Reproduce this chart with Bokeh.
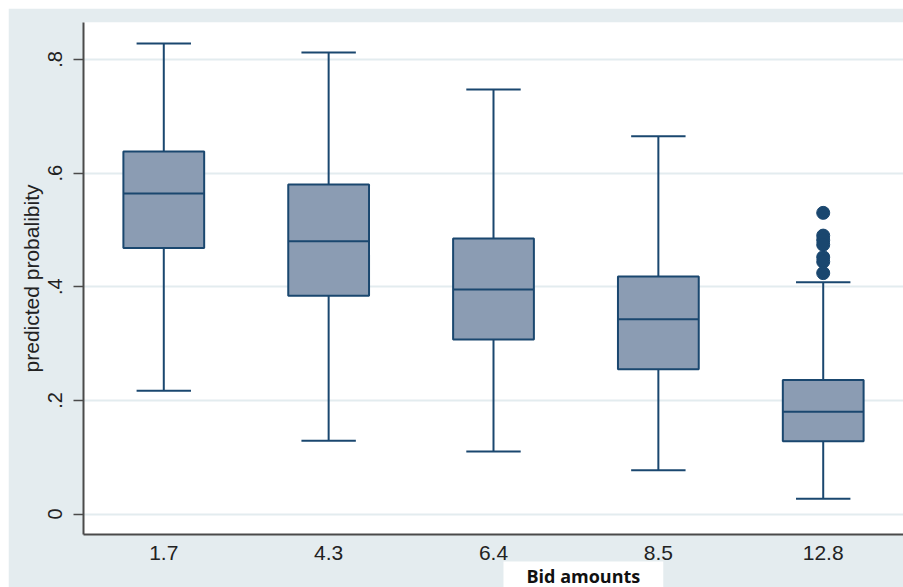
import numpy as np
from bokeh.plotting import figure
from bokeh.models import Range1d, FixedTicker, Title, ColumnDataSource
from bokeh.embed import file_html
from bokeh.resources import INLINE

# ---- data ----
categories = ["1.7", "4.3", "6.4", "8.5", "12.8"]
upper_whisker = [0.828, 0.812, 0.747, 0.665, 0.408]
q3 = [0.638, 0.580, 0.485, 0.418, 0.236]
median = [0.564, 0.480, 0.395, 0.343, 0.180]
q1 = [0.468, 0.384, 0.307, 0.255, 0.128]
lower_whisker = [0.217, 0.129, 0.110, 0.077, 0.027]
outlier_group = ["12.8"] * 7
outlier_values = [0.530, 0.490, 0.482, 0.474, 0.452, 0.444, 0.424]
y_ticks = [0, 0.2, 0.4, 0.6, 0.8]
y_tick_labels = ["0", ".2", ".4", ".6", ".8"]

# ---- styles ----
BG = "#e4ecef"
NAVY = "#1a476f"
FILL = "#8b9cb3"
GRID = "#e3ecef"
AXIS = "#4a4a4a"
FONT = "Liberation Sans"

BOX_W = 0.49
CAP_W = 0.33

xs = np.arange(len(categories), dtype=float)
src = ColumnDataSource(dict(
    x=xs, upper=upper_whisker, q3=q3, med=median, q1=q1, lower=lower_whisker,
    bl=xs - BOX_W / 2, br=xs + BOX_W / 2, cl=xs - CAP_W / 2, cr=xs + CAP_W / 2,
))
out_x = [categories.index(g) for g in outlier_group]

p = figure(width=895, height=579,
           x_range=Range1d(-0.487, 4.487), y_range=Range1d(-0.036, 0.865),
           output_backend="svg", toolbar_location=None,
           min_border_left=75, min_border_right=0, min_border_top=14, min_border_bottom=53,
           background_fill_color="white", border_fill_color=BG,
           outline_line_color=None)
p.margin = (8, 0, 0, 8)

# whiskers
p.segment(x0="x", y0="q3", x1="x", y1="upper", source=src, line_color=NAVY, line_width=2)
p.segment(x0="x", y0="q1", x1="x", y1="lower", source=src, line_color=NAVY, line_width=2)
# caps
p.segment(x0="cl", y0="upper", x1="cr", y1="upper", source=src, line_color=NAVY, line_width=2)
p.segment(x0="cl", y0="lower", x1="cr", y1="lower", source=src, line_color=NAVY, line_width=2)
# boxes
p.vbar(x="x", width=BOX_W, top="q3", bottom="q1", source=src,
       fill_color=FILL, line_color=NAVY, line_width=2)
# medians
p.segment(x0="bl", y0="med", x1="br", y1="med", source=src, line_color=NAVY, line_width=2)
# outliers
p.scatter(x=out_x, y=outlier_values, size=13, fill_color=NAVY, line_color=NAVY)

# axes
p.xaxis.ticker = FixedTicker(ticks=list(xs))
p.xaxis.major_label_overrides = {i: c for i, c in enumerate(categories)}
p.xaxis.major_tick_out = 0
p.xaxis.major_tick_in = 0
p.xaxis.minor_tick_line_color = None
p.xaxis.axis_line_color = AXIS
p.xaxis.axis_line_width = 2
p.xaxis.major_label_standoff = 11
p.xaxis.major_label_text_font = FONT
p.xaxis.major_label_text_font_size = "21px"
p.xaxis.major_label_text_color = "#222222"

p.yaxis.ticker = FixedTicker(ticks=y_ticks)
p.yaxis.major_label_overrides = {t: l for t, l in zip(y_ticks, y_tick_labels)}
p.yaxis.major_label_orientation = "vertical"
p.yaxis.major_tick_out = 10
p.yaxis.major_tick_in = 0
p.yaxis.major_tick_line_color = AXIS
p.yaxis.major_tick_line_width = 1.5
p.yaxis.minor_tick_line_color = None
p.yaxis.axis_line_color = AXIS
p.yaxis.axis_line_width = 2
p.yaxis.major_label_standoff = 11
p.yaxis.major_label_text_font = FONT
p.yaxis.major_label_text_font_size = "20px"
p.yaxis.major_label_text_color = "#222222"
p.yaxis.axis_label = "predicted probalibity"
p.yaxis.axis_label_text_font = FONT
p.yaxis.axis_label_text_font_style = "normal"
p.yaxis.axis_label_text_font_size = "21px"
p.yaxis.axis_label_text_color = "#222222"
p.yaxis.axis_label_standoff = 3

p.xgrid.visible = False
p.ygrid.ticker = FixedTicker(ticks=y_ticks)
p.ygrid.grid_line_color = GRID
p.ygrid.grid_line_width = 2

# x-axis title in a white box, below the axis
p.add_layout(Title(text="Bid amounts", align="left", offset=420, standoff=-6,
                   text_font="Open Sans", text_font_style="bold", text_font_size="18px",
                   text_color="#111111", background_fill_color="white",
                   padding=dict(left=23, right=23, top=2, bottom=0)), "below")

open("out.html", "w").write(file_html(p, INLINE))
